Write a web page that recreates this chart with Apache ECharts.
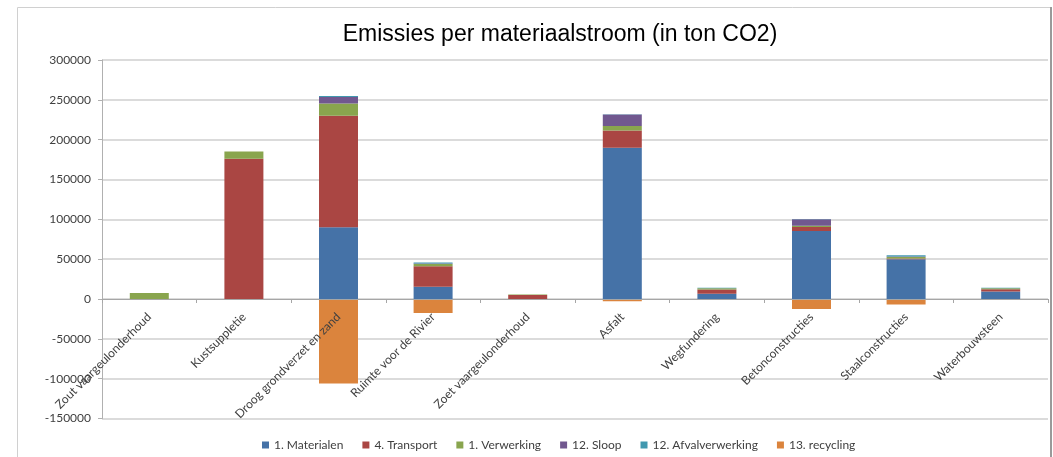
<!DOCTYPE html>
<html>
<head>
<meta charset="utf-8">
<script src="https://cdn.jsdelivr.net/npm/echarts@6/dist/echarts.min.js"></script>
<style>
  html, body { margin: 0; padding: 0; background: #fff; }
  #chart { width: 1053px; height: 457px; }
</style>
</head>
<body>
<div id="chart"></div>
<script>
// Categories (material flows)
const categories = [
  'Zout vaargeulonderhoud', 'Kustsuppletie', 'Droog grondverzet en zand',
  'Ruimte voor de Rivier', 'Zoet vaargeulonderhoud', 'Asfalt',
  'Wegfundering', 'Betonconstructies', 'Staalconstructies', 'Waterbouwsteen'
];

// Emissions per phase, in ton CO2
const materialen      = [0, 0, 90000, 15500, 0, 190000, 6500, 85500, 50000, 9500];
const transport       = [0, 176000, 140000, 25500, 5000, 21500, 5500, 5000, 800, 2800];
const verwerking      = [7500, 9000, 15500, 2800, 800, 5500, 1500, 1500, 2000, 1300];
const sloop           = [0, 0, 8000, 800, 0, 14500, 0, 8000, 500, 0];
const afvalverwerking = [0, 0, 1300, 1200, 0, 500, 600, 400, 1500, 600];
const recycling       = [0, 0, -106000, -17500, 0, -2800, 0, -12500, -7000, 0];

const seriesNames = ['1. Materialen', '4. Transport', '1. Verwerking', '12. Sloop', '12. Afvalverwerking', '13. recycling'];
const seriesData  = [materialen, transport, verwerking, sloop, afvalverwerking, recycling];
const colors = ['#4572A7', '#AA4643', '#89A54E', '#71588F', '#4198AF', '#DB843D'];

// Y-axis range and step
const yMin = -150000, yMax = 300000, yStep = 50000;

// Plot box
const gridTop = 60, gridBottom = 38.5, chartH = 457;
const plotH = chartH - gridTop - gridBottom;
// Distance from the bottom edge of the plot up to the zero line
const zeroShift = plotH * (0 - yMin) / (yMax - yMin);

const chart = echarts.init(document.getElementById('chart'), null, { renderer: 'canvas' });

chart.setOption({
  animation: false,
  color: colors,
  title: {
    text: 'Emissies per materiaalstroom (in ton CO2)',
    left: 555,
    textAlign: 'center',
    top: 18,
    textStyle: { fontFamily: 'Liberation Sans', fontSize: 23, fontWeight: 'normal', color: '#000' }
  },
  graphic: [
    { type: 'rect', silent: true, z: -1,
      shape: { x: 17.5, y: 7.5, width: 1033, height: 470 },
      style: { fill: 'none', stroke: '#d0d0d0', lineWidth: 1 } },
    { type: 'line', silent: true, z: -1,
      shape: { x1: 1051, y1: 7, x2: 1051, y2: 457 },
      style: { stroke: '#9a9a9a', lineWidth: 2 } }
  ],
  legend: {
    data: seriesNames,
    left: 257,
    top: 434,
    icon: 'rect',
    itemWidth: 7,
    itemHeight: 7,
    itemGap: 19,
    textStyle: { fontFamily: 'Lato', fontSize: 12, color: '#404040' }
  },
  grid: { left: 102, right: 5, top: gridTop, bottom: gridBottom, containLabel: false, outerBoundsMode: 'none' },
  xAxis: {
    type: 'category',
    data: categories,
    z: 5,
    offset: -zeroShift,
    axisLine: { onZero: false, lineStyle: { color: '#a6a6a6' } },
    axisTick: { show: true, length: 4, alignWithLabel: false, lineStyle: { color: '#a6a6a6' } },
    axisLabel: {
      rotate: 45, interval: 0, margin: 16,
      fontFamily: 'Lato', fontSize: 12, color: '#404040'
    },
    splitLine: { show: false }
  },
  yAxis: {
    type: 'value',
    min: yMin, max: yMax, interval: yStep,
    axisLine: { show: true, lineStyle: { color: '#b0b0b0' } },
    axisTick: { show: true, length: 4, lineStyle: { color: '#b0b0b0' } },
    axisLabel: {
      margin: 11, fontFamily: 'Lato', fontSize: 12, color: '#404040',
      formatter: v => String(v)
    },
    splitLine: { show: true, lineStyle: { color: '#cfcfcf', width: 1.5 } }
  },
  series: seriesNames.map((name, i) => ({
    name: name,
    type: 'bar',
    stack: 'total',
    barWidth: 39,
    data: seriesData[i],
    itemStyle: { color: colors[i] }
  }))
});
</script>
</body>
</html>
